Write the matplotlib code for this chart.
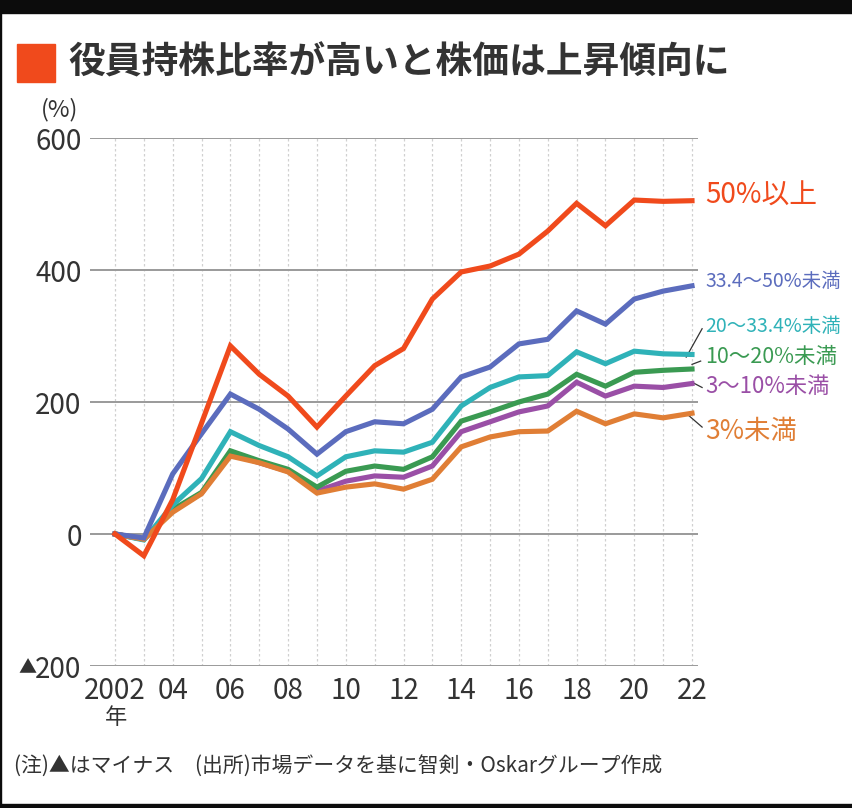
import matplotlib
matplotlib.use("Agg")
import matplotlib.pyplot as plt
from matplotlib.patches import Rectangle

plt.rcParams["font.family"] = ["Noto Sans CJK JP", "DejaVu Sans"]

W, H = 853, 808

years = list(range(2002, 2023))
xlabels = ["2002", "04", "06", "08", "10", "12", "14", "16", "18", "20", "22"]
ytick_vals = [-200, 0, 200, 400, 600]
ytick_labels = ["200", "0", "200", "400", "600"]   # minus sign drawn as small ▲

s50 = [0, -33, 52, 168, 285, 242, 209, 162, 209, 255, 281, 356, 397, 406, 424, 459, 501, 467, 506, 504, 505]
s33 = [0, -6, 91, 152, 212, 189, 159, 121, 155, 170, 167, 189, 238, 253, 288, 295, 338, 318, 356, 368, 376]
s20 = [0, -9, 44, 84, 155, 134, 117, 88, 117, 126, 124, 139, 194, 222, 238, 240, 276, 258, 277, 273, 272]
s10 = [0, -8, 37, 63, 126, 111, 98, 71, 95, 103, 98, 117, 171, 185, 200, 212, 242, 224, 245, 248, 250]
s3 = [0, -8, 35, 62, 122, 108, 95, 65, 80, 88, 86, 103, 155, 170, 185, 194, 230, 209, 224, 222, 228]
s0 = [0, -8, 33, 61, 118, 108, 94, 62, 71, 76, 68, 83, 132, 147, 155, 156, 186, 167, 182, 176, 183]

names = ["50%以上", "33.4～50%未満", "20～33.4%未満", "10～20%未満", "3～10%未満", "3%未満"]

C50 = "#f04a1c"
C33 = "#5b6cbd"
C20 = "#2fb2b8"
C10 = "#3a9a52"
C3 = "#9a4fa6"
C0 = "#e07e35"

fig = plt.figure(figsize=(W / 100, H / 100), dpi=100)
fig.patch.set_facecolor("white")

# black frame from the screenshot
fig.patches.append(Rectangle((0, 1 - 13 / H), 1, 13 / H, transform=fig.transFigure,
                             color="#0c0c0c", zorder=10))
fig.patches.append(Rectangle((0, 0), 1, 4 / H, transform=fig.transFigure,
                             color="#0c0c0c", zorder=10))
fig.patches.append(Rectangle((0, 0), 1.5 / W, 1, transform=fig.transFigure,
                             color="#0c0c0c", zorder=10))

# axes placed in pixel terms
left, right, top, bottom = 90, 698, 138, 666
ax = fig.add_axes([left / W, 1 - bottom / H, (right - left) / W, (bottom - top) / H])
px_per_year = (692 - 115) / 20
ax.set_xlim(2002 + (left - 115) / px_per_year, 2002 + (right - 115) / px_per_year)
ax.set_ylim(-200, 600)
for s in ax.spines.values():
    s.set_visible(False)

for v in ytick_vals:
    ax.axhline(v, color="#9a9a9a", lw=1.4, zorder=1)
for yr in years:
    ax.axvline(yr, color="#d0d0d0", lw=0.9, ls=(0, (2, 2)), zorder=0)

series = [(s3, C3), (s10, C10), (s20, C20), (s0, C0), (s33, C33), (s50, C50)]
for vals, c in series:
    ax.plot(years, vals, color=c, lw=3.7, solid_joinstyle="miter", zorder=3,
            clip_on=False)

ax.set_yticks(ytick_vals)
ax.set_yticklabels(ytick_labels, fontsize=20, color="#333333")
ax.set_xticks(years[::2])
ax.set_xticklabels(xlabels, fontsize=20, color="#333333")
ax.tick_params(axis="y", length=0, pad=6)
ax.tick_params(axis="x", length=0, pad=7)
# small triangle = minus
fig.text(27 / W, 1 - 668 / H, "▲", fontsize=13, color="#333333", va="center", ha="center")

# right-hand labels
lx = 2022.45
ax.text(lx, 512, names[0], color=C50, fontsize=20, va="center", ha="left", clip_on=False)
ax.text(lx, 382, names[1], color=C33, fontsize=14, va="center", ha="left", clip_on=False)
ax.text(lx, 315, names[2], color=C20, fontsize=14, va="center", ha="left", clip_on=False)
ax.text(lx, 268, names[3], color=C10, fontsize=15.5, va="center", ha="left", clip_on=False)
ax.text(lx, 223, names[4], color=C3, fontsize=16, va="center", ha="left", clip_on=False)
ax.text(lx, 155, names[5], color=C0, fontsize=19, va="center", ha="left", clip_on=False)

# leader lines
ax.plot([2021.8, 2022.35], [268, 311], color="#333333", lw=0.9, clip_on=False)
ax.plot([2021.9, 2022.35], [179, 162], color="#333333", lw=0.9, clip_on=False)
ax.plot([2022.0, 2022.3], [257, 262], color="#333333", lw=0.9, clip_on=False)
ax.plot([2022.0, 2022.35], [230, 222], color="#333333", lw=0.9, clip_on=False)

# title with orange square
fig.patches.append(Rectangle((17 / W, 1 - 82 / H), 38 / W, 38 / H, transform=fig.transFigure,
                             color="#f04a1c"))
fig.text(68 / W, 1 - 63 / H, "役員持株比率が高いと株価は上昇傾向に", fontsize=26.5,
         fontweight="bold", color="#333333", va="center", ha="left")

fig.text(60 / W, 1 - 110 / H, "(%)", fontsize=17, color="#333333", va="center", ha="center")
fig.text(116 / W, 1 - 718 / H, "年", fontsize=16, color="#333333", va="center", ha="center")
fig.text(14 / W, 1 - 766 / H,
         "(注)▲はマイナス　(出所)市場データを基に智剣・Oskarグループ作成",
         fontsize=15, color="#333333", va="center", ha="left")

fig.savefig("out.png", dpi=100)
